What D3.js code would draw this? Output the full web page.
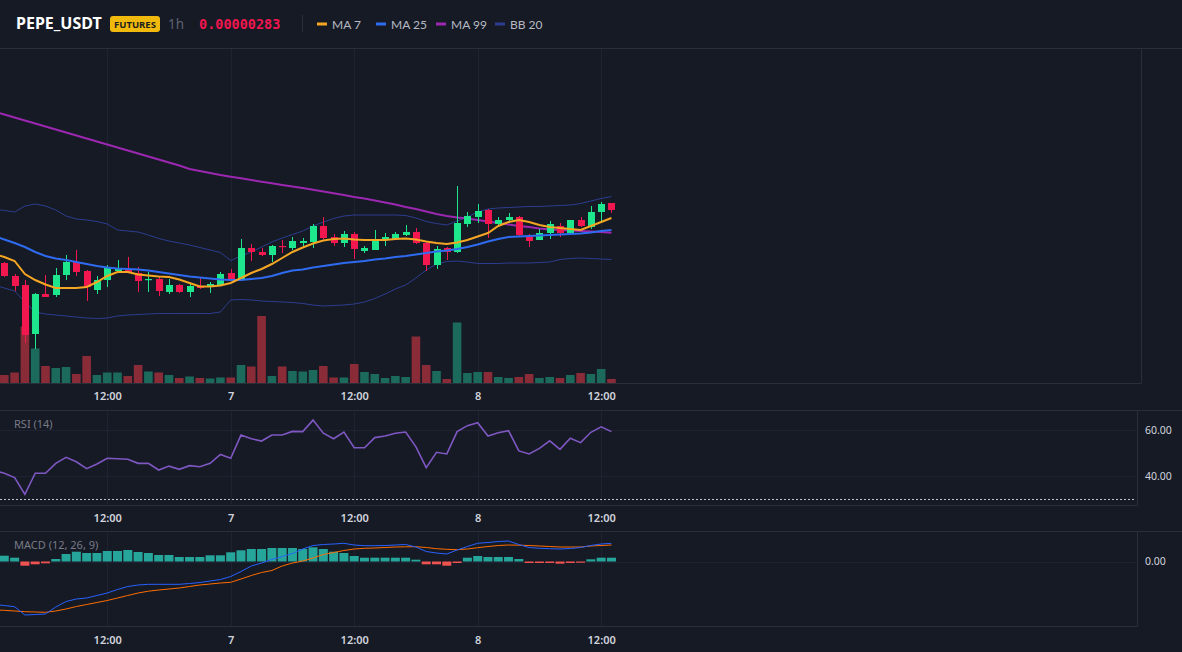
<!DOCTYPE html>
<html><head><meta charset="utf-8">
<script src="https://cdn.jsdelivr.net/npm/d3@7"></script>
<style>
html,body{margin:0;padding:0;background:#161a25;}
svg{display:block;}
</style></head><body>
<svg id="chart" width="1182" height="652"></svg>
<script>
// ---------- DATA (prices in units of 1e-8 USDT, volume in billions) ----------
const symbol = "PEPE_USDT";
const interval = "1h";
const lastPriceText = "0.00000283";
const firstCandleUTC = Date.UTC(2023, 9, 6, 2); // first visible hourly candle
const open = [277.7, 276.4, 275.5, 270.6, 274.6, 274.5, 276.5, 277.8, 276.9, 275.0,
  276.0, 276.9, 277.1, 276.7, 276.0, 276.1, 274.8, 275.5, 274.8, 275.4,
  275.3, 275.5, 276.7, 276.1, 279.2, 278.8, 278.5, 279.4, 279.2, 279.7,
  279.8, 281.4, 280.3, 279.7, 280.6, 278.9, 279.0, 280.0, 280.1, 280.5,
  280.8, 279.7, 277.5, 279.2, 278.8, 281.6, 282.3, 283.0, 281.6, 282.0,
  282.3, 280.3, 280.0, 280.7, 281.4, 280.7, 282.0, 281.3, 282.8, 283.7];
const high = [277.8, 276.6, 276.0, 274.7, 276.5, 277.2, 278.5, 279.0, 277.0, 276.4,
  277.5, 278.0, 278.3, 277.3, 276.8, 276.3, 276.1, 275.6, 275.6, 276.2,
  275.8, 276.8, 277.1, 280.1, 279.6, 279.2, 279.5, 280.0, 280.3, 280.2,
  281.6, 282.3, 280.6, 280.9, 280.8, 279.4, 281.0, 280.7, 280.8, 281.5,
  281.2, 279.9, 279.4, 279.3, 285.4, 282.8, 283.6, 283.1, 282.3, 282.7,
  282.4, 280.6, 281.1, 281.9, 281.7, 282.0, 282.3, 283.4, 283.8, 283.7];
const low = [276.3, 274.9, 269.7, 269.1, 274.3, 274.3, 276.0, 276.4, 273.9, 274.6,
  275.3, 276.8, 276.7, 274.8, 274.8, 274.4, 274.6, 274.7, 274.3, 275.1,
  274.7, 275.4, 276.0, 276.0, 277.9, 278.4, 277.8, 278.7, 279.0, 279.4,
  279.2, 280.1, 279.4, 279.3, 278.1, 278.7, 279.0, 279.4, 280.0, 280.4,
  279.6, 276.9, 277.1, 278.0, 278.7, 281.3, 281.7, 280.2, 281.4, 281.7,
  280.3, 279.3, 280.0, 280.1, 280.3, 280.5, 281.3, 281.1, 281.7, 282.7];
const close = [276.4, 275.4, 270.5, 274.6, 274.3, 276.5, 277.8, 276.8, 275.3, 276.0,
  277.2, 277.1, 276.8, 275.9, 276.1, 274.9, 275.5, 274.8, 275.4, 275.2,
  275.6, 276.6, 276.1, 279.2, 278.8, 278.5, 279.4, 279.3, 279.9, 279.9,
  281.4, 280.2, 279.7, 280.6, 279.1, 279.2, 280.1, 280.3, 280.6, 280.8,
  279.7, 277.5, 279.1, 278.8, 281.7, 282.4, 282.9, 281.6, 282.0, 282.3,
  280.5, 279.9, 280.7, 281.6, 280.7, 282.0, 281.4, 282.8, 283.6, 283.0];
const volume = [1.6, 2.1, 11.3, 6.9, 3.4, 3.0, 3.2, 1.8, 5.4, 1.6,
  2.1, 2.1, 1.4, 3.6, 2.3, 2.1, 1.6, 1.0, 1.3, 1.0,
  0.9, 1.1, 1.1, 3.6, 3.3, 13.4, 1.4, 3.3, 2.4, 2.3,
  2.6, 3.4, 1.1, 1.1, 3.8, 2.2, 1.8, 1.0, 1.4, 1.2,
  9.3, 3.6, 2.4, 0.8, 12.1, 2.0, 2.2, 2.2, 1.2, 1.0,
  1.2, 1.8, 1.0, 1.2, 1.0, 1.6, 2.0, 1.8, 2.8, 0.8];

// Indicator series start one hour before the first visible candle (61 values)
const ma7 = [278.6, 278.3, 277.9, 276.6, 276.0, 275.55, 275.2, 275.2, 275.2, 275.3, 275.8,
  276.4, 276.8, 276.8, 276.55, 276.45, 276.35, 276.3, 276.05, 275.7, 275.35,
  275.35, 275.45, 275.7, 276.2, 276.7, 277.1, 277.6, 278.2, 278.8, 279.25,
  279.65, 279.95, 280.1, 280.15, 280.05, 280.0, 280.0, 280.0, 280.1, 280.15,
  280.05, 279.85, 279.7, 279.6, 279.75, 280.0, 280.35, 280.7, 281.4, 281.8,
  282.0, 281.8, 281.5, 281.3, 281.2, 281.1, 281.0, 281.4, 281.8, 282.2];
const ma25 = [280.4, 280.05, 279.7, 279.3, 278.8, 278.4, 278.15, 278.0, 277.8, 277.6, 277.4,
  277.25, 277.15, 277.1, 277.05, 276.95, 276.8, 276.65, 276.5, 276.35, 276.25,
  276.15, 276.05, 276.0, 276.0, 276.1, 276.2, 276.4, 276.7, 276.95, 277.05,
  277.25, 277.4, 277.55, 277.7, 277.8, 277.9, 278.05, 278.15, 278.3, 278.4,
  278.55, 278.7, 278.85, 278.95, 279.1, 279.3, 279.55, 279.85, 280.1, 280.3,
  280.35, 280.4, 280.45, 280.5, 280.55, 280.6, 280.65, 280.75, 280.9, 281.0];
const ma99 = [292.85, 292.55, 292.25, 291.95, 291.65, 291.35, 291.05, 290.75, 290.45, 290.15, 289.85,
  289.55, 289.25, 288.95, 288.65, 288.35, 288.05, 287.75, 287.45, 287.1, 286.9,
  286.7, 286.5, 286.33, 286.17, 286.0, 285.83, 285.67, 285.5, 285.35, 285.2,
  285.03, 284.85, 284.67, 284.5, 284.3, 284.15, 283.95, 283.75, 283.55, 283.3,
  283.1, 282.85, 282.6, 282.4, 282.25, 282.15, 282.0, 281.85, 281.7, 281.55,
  281.4, 281.3, 281.15, 281.05, 281.0, 280.95, 280.9, 280.85, 280.8, 280.73];
const bbUpper = [283.1, 282.95, 282.8, 283.4, 283.6, 283.4, 283.0, 282.4, 282.1, 282.0, 281.85,
  281.6, 281.0, 280.9, 280.8, 280.5, 280.15, 279.9, 279.7, 279.5, 279.25,
  279.0, 278.75, 277.95, 278.4, 278.8, 279.3, 279.8, 280.2, 280.55, 280.9,
  281.4, 281.8, 282.15, 282.4, 282.5, 282.5, 282.5, 282.5, 282.5, 282.45,
  282.2, 281.85, 281.65, 281.5, 281.9, 282.3, 282.8, 283.1, 283.2, 283.25,
  283.3, 283.35, 283.35, 283.4, 283.45, 283.5, 283.65, 283.9, 284.15, 284.35];
const bbLower = [275.5, 275.2, 274.9, 273.8, 272.8, 272.6, 272.5, 272.4, 272.3, 272.2, 272.15,
  272.2, 272.4, 272.5, 272.55, 272.6, 272.65, 272.65, 272.65, 272.65, 272.65,
  272.65, 272.8, 274.0, 274.05, 274.0, 273.9, 273.85, 273.8, 273.75, 273.65,
  273.5, 273.4, 273.45, 273.5, 273.6, 273.8, 274.15, 274.6, 275.1, 275.5,
  276.2, 277.0, 277.6, 277.85, 277.9, 277.8, 277.65, 277.65, 277.65, 277.7,
  277.7, 277.7, 277.75, 277.8, 278.05, 278.15, 278.2, 278.15, 278.1, 278.05];
const rsi = [42.3, 41.2, 39.3, 32.0, 41.2, 41.2, 45.5, 48.1, 46.2, 43.2, 45.2,
  47.7, 47.5, 47.3, 45.5, 45.5, 42.6, 44.3, 42.9, 44.5, 44.0,
  45.5, 49.4, 47.7, 57.8, 56.2, 55.2, 57.8, 57.8, 59.4, 59.3,
  64.3, 58.6, 56.2, 59.1, 52.3, 52.3, 56.7, 57.4, 58.6, 59.1,
  52.7, 43.6, 50.3, 49.6, 59.3, 61.9, 63.2, 57.4, 58.8, 59.7,
  50.9, 49.6, 52.0, 55.3, 51.6, 56.4, 54.5, 59.0, 61.4, 59.3];
// MACD in units of 1e-9
const macd = [-8.6, -8.8, -9.04, -10.7, -10.6, -10.5, -9.1, -8.0, -7.5, -7.3, -6.8,
  -6.3, -5.6, -5.0, -4.7, -4.56, -4.56, -4.56, -4.56, -4.4, -4.2,
  -3.9, -3.6, -3.0, -2.0, -0.9, -0.3, 0.4, 1.0, 1.6, 2.5,
  3.2, 3.4, 3.5, 3.64, 3.3, 3.16, 3.16, 3.2, 3.3, 3.4,
  2.9, 2.0, 1.7, 1.5, 2.3, 3.0, 3.64, 3.8, 4.0, 4.1,
  3.4, 2.8, 2.64, 2.56, 2.5, 2.6, 2.8, 3.2, 3.5, 3.64];
const signal = [-9.7, -9.76, -9.9, -10.04, -10.1, -10.16, -9.9, -9.5, -9.0, -8.6, -8.2,
  -7.8, -7.3, -6.8, -6.3, -5.94, -5.7, -5.5, -5.3, -5.0, -4.7,
  -4.5, -4.3, -4.16, -3.5, -2.8, -2.2, -1.8, -0.9, -0.3, 0.1,
  0.7, 1.4, 1.8, 2.2, 2.5, 2.64, 2.7, 2.8, 2.9, 2.94,
  2.96, 2.8, 2.56, 2.44, 2.36, 2.5, 2.76, 3.0, 3.2, 3.3,
  3.26, 3.2, 3.1, 3.0, 2.9, 2.9, 2.9, 3.1, 3.2, 3.3];
const histogram = [1.16, 0.76, -0.84, -0.56, -0.36, 0.5, 1.5, 1.96, 1.7, 1.7,
  2.1, 2.1, 2.3, 1.9, 1.7, 1.3, 1.3, 0.9, 0.9, 0.9,
  1.24, 1.24, 1.84, 2.24, 2.5, 2.5, 2.7, 2.7, 2.7, 2.5,
  2.84, 2.5, 1.96, 1.7, 1.1, 0.76, 0.76, 0.76, 0.76, 0.76,
  0.36, -0.56, -0.56, -0.84, -0.3, 0.76, 1.1, 0.9, 0.9, 0.9,
  0.5, -0.3, -0.3, -0.3, -0.44, -0.3, -0.24, 0.44, 0.76, 0.76];
const legendLabels = ["MA 7", "MA 25", "MA 99", "BB 20"];
const legendColors = ["#f5a623", "#2f6bf0", "#9c27b0", "#2c3d8f"];
const rsiTicks = [40, 60];
const rsiOversold = 30;
const macdTicks = [0];

// ---------- LAYOUT ----------
const W = 1182, Hh = 652;
const HOUR = 3600e3;
const day7 = Date.UTC(2023, 9, 7);
const mainPane = {top: 48, bottom: 383, right: 1141};
const rsiPane = {top: 410, bottom: 505, right: 1137};
const macdPane = {top: 531, bottom: 626.7, right: 1137};
const BG = "#161a25", BORDER = "#2a2e39", GRID = "#1f2331";
const UP = "#1de68c", DOWN = "#f2184f";

const svg = d3.select("#chart");
svg.append("rect").attr("width", W).attr("height", Hh).attr("fill", BG);

const candleTimes = open.map((_, i) => new Date(firstCandleUTC + i * HOUR));
const indTimes = ma7.map((_, i) => new Date(firstCandleUTC + (i - 1) * HOUR));

const x = d3.scaleUtc()
  .domain([new Date(day7 - 22.42 * HOUR), new Date(day7 + 88.46 * HOUR)])
  .range([0, mainPane.right]);
const yPrice = d3.scaleLinear().domain([265.7, 299.2]).range([mainPane.bottom, mainPane.top]);
const yVol = d3.scaleLinear().domain([0, 67]).range([mainPane.bottom, mainPane.top]);
const yRsi = d3.scaleLinear().domain([27.39, 68.7]).range([rsiPane.bottom, rsiPane.top]);
const yMacd = d3.scaleLinear().domain([-13, 6.5]).range([626.5, 529]);

const tickValues = d3.utcHour.every(12).range(candleTimes[0], new Date(+candleTimes[candleTimes.length - 1] + 1));
const tickFmt = d => d.getUTCHours() === 0 ? d3.utcFormat("%-d")(d) : d3.utcFormat("%H:%M")(d);

const defs = svg.append("defs");
function clip(id, p) {
  defs.append("clipPath").attr("id", id).append("rect")
    .attr("x", 0).attr("y", p.top).attr("width", p.right).attr("height", p.bottom - p.top);
  return "url(#" + id + ")";
}
const clipMain = clip("cm", mainPane), clipRsi = clip("cr", rsiPane), clipMacd = clip("cmd", macdPane);

// ---------- grids & borders ----------
function vGrid(p) {
  svg.append("g").selectAll("line").data(tickValues).join("line")
    .attr("x1", d => Math.round(x(d)) + 0.5).attr("x2", d => Math.round(x(d)) + 0.5)
    .attr("y1", p.top).attr("y2", p.bottom).attr("stroke", GRID).attr("stroke-width", 1);
}
vGrid(mainPane); vGrid(rsiPane); vGrid(macdPane);

svg.append("g").selectAll("line").data(rsiTicks).join("line")
  .attr("x1", 0).attr("x2", rsiPane.right)
  .attr("y1", d => Math.round(yRsi(d)) + 0.5).attr("y2", d => Math.round(yRsi(d)) + 0.5)
  .attr("stroke", GRID);
svg.append("g").selectAll("line").data(macdTicks).join("line")
  .attr("x1", 0).attr("x2", macdPane.right)
  .attr("y1", d => Math.round(yMacd(d)) + 0.5).attr("y2", d => Math.round(yMacd(d)) + 0.5)
  .attr("stroke", GRID);

function hline(y, x1, x2) {
  svg.append("line").attr("x1", x1).attr("x2", x2).attr("y1", y).attr("y2", y)
    .attr("stroke", BORDER).attr("stroke-width", 1);
}
function vline(xx, y1, y2) {
  svg.append("line").attr("x1", xx).attr("x2", xx).attr("y1", y1).attr("y2", y2)
    .attr("stroke", BORDER).attr("stroke-width", 1);
}
hline(48.5, 0, W);
hline(383.5, 0, mainPane.right);
vline(mainPane.right + 0.5, 48, 383.5);
hline(410.5, 0, W);
hline(505.5, 0, rsiPane.right);
vline(rsiPane.right + 0.5, 410, 505.5);
hline(531.5, 0, W);
hline(626.5, 0, macdPane.right);
vline(macdPane.right + 0.5, 531, 626.5);

// ---------- main pane ----------
const gMain = svg.append("g").attr("clip-path", clipMain);
const idx = d3.range(open.length);
const isUp = i => close[i] >= open[i];

// volume
gMain.append("g").selectAll("rect").data(idx).join("rect")
  .attr("x", i => x(candleTimes[i]) - 4.3)
  .attr("width", 8.6)
  .attr("y", i => yVol(volume[i]))
  .attr("height", i => yVol(0) - yVol(volume[i]))
  .attr("fill", i => isUp(i) ? "#1b6a5b" : "#8a2b38");

// bollinger bands & long MA
const lineGen = (yS, arr) => d3.line().x((d, i) => x(indTimes[i])).y(d => yS(d)).curve(d3.curveLinear)(arr);
gMain.append("path").attr("d", lineGen(yPrice, bbUpper)).attr("fill", "none").attr("stroke", "#2c3d8f").attr("stroke-width", 1);
gMain.append("path").attr("d", lineGen(yPrice, bbLower)).attr("fill", "none").attr("stroke", "#2c3d8f").attr("stroke-width", 1);
gMain.append("path").attr("d", lineGen(yPrice, ma99)).attr("fill", "none").attr("stroke", "#9c27b0").attr("stroke-width", 2);

// candles
const gC = gMain.append("g");
gC.selectAll("line").data(idx).join("line")
  .attr("x1", i => Math.round(x(candleTimes[i])) + 0.5)
  .attr("x2", i => Math.round(x(candleTimes[i])) + 0.5)
  .attr("y1", i => yPrice(high[i])).attr("y2", i => yPrice(low[i]))
  .attr("stroke", i => isUp(i) ? UP : DOWN).attr("stroke-width", 1);
gC.selectAll("rect").data(idx).join("rect")
  .attr("x", i => Math.round(x(candleTimes[i])) - 3)
  .attr("width", 7)
  .attr("y", i => yPrice(Math.max(open[i], close[i])))
  .attr("height", i => Math.max(1.2, Math.abs(yPrice(open[i]) - yPrice(close[i]))))
  .attr("fill", i => isUp(i) ? UP : DOWN);

gMain.append("path").attr("d", lineGen(yPrice, ma25)).attr("fill", "none").attr("stroke", "#2f6bf0").attr("stroke-width", 2);
gMain.append("path").attr("d", lineGen(yPrice, ma7)).attr("fill", "none").attr("stroke", "#f5a623").attr("stroke-width", 2);

// ---------- RSI pane ----------
svg.append("line").attr("x1", 0).attr("x2", rsiPane.right - 3)
  .attr("y1", Math.round(yRsi(rsiOversold)) + 0.5).attr("y2", Math.round(yRsi(rsiOversold)) + 0.5)
  .attr("stroke", "#c3c6ce").attr("stroke-dasharray", "2,2").attr("stroke-width", 1);
svg.append("g").attr("clip-path", clipRsi).append("path")
  .attr("d", lineGen(yRsi, rsi)).attr("fill", "none").attr("stroke", "#7e57c2").attr("stroke-width", 1.6);

// ---------- MACD pane ----------
const gM = svg.append("g").attr("clip-path", clipMacd);
gM.append("g").selectAll("rect").data(idx).join("rect")
  .attr("x", i => x(candleTimes[i]) - 4.5)
  .attr("width", 9)
  .attr("y", i => yMacd(Math.max(0, histogram[i])))
  .attr("height", i => Math.abs(yMacd(histogram[i]) - yMacd(0)))
  .attr("fill", i => histogram[i] >= 0 ? "#26a69a" : "#ef5350");
gM.append("path").attr("d", lineGen(yMacd, signal)).attr("fill", "none").attr("stroke", "#ff6d00").attr("stroke-width", 1);
gM.append("path").attr("d", lineGen(yMacd, macd)).attr("fill", "none").attr("stroke", "#2962ff").attr("stroke-width", 1);

// ---------- axes ----------
function timeAxis(yPos) {
  const g = svg.append("g").attr("transform", `translate(0,${yPos})`)
    .call(d3.axisBottom(x).tickValues(tickValues).tickFormat(tickFmt).tickSize(0).tickPadding(9));
  g.select(".domain").remove();
  g.selectAll("text").attr("fill", "#d1d4dc").style("font-family", "'Noto Sans', sans-serif")
    .style("font-size", "11px").style("font-weight", "600");
}
timeAxis(383); timeAxis(505); timeAxis(627);

function valueAxis(yS, vals, xPos) {
  const g = svg.append("g").attr("transform", `translate(${xPos},0)`)
    .call(d3.axisRight(yS).tickValues(vals).tickFormat(d3.format(".2f")).tickSize(0).tickPadding(8));
  g.select(".domain").remove();
  g.selectAll("text").attr("fill", "#d1d4dc").style("font-family", "'Noto Sans', sans-serif")
    .style("font-size", "10.5px");
}
valueAxis(yRsi, rsiTicks, rsiPane.right);
valueAxis(yMacd, macdTicks, macdPane.right);

// pane labels
svg.append("text").attr("x", 14).attr("y", 428).text("RSI (14)")
  .attr("fill", "#787b86").style("font-family", "'Noto Sans', sans-serif").style("font-size", "11px");
svg.append("text").attr("x", 14).attr("y", 549).text("MACD (12, 26, 9)")
  .attr("fill", "#787b86").style("font-family", "'Noto Sans', sans-serif").style("font-size", "11px");

// ---------- header ----------
const hdr = svg.append("g");
hdr.append("text").attr("x", 16).attr("y", 29).text(symbol)
  .attr("fill", "#ffffff").style("font-family", "'Noto Sans', sans-serif").style("font-size", "16px").style("font-weight", "700");
hdr.append("rect").attr("x", 110).attr("y", 16).attr("width", 50).attr("height", 16).attr("rx", 3).attr("fill", "#f0b90b");
hdr.append("text").attr("x", 135).attr("y", 27.5).attr("text-anchor", "middle").text("FUTURES")
  .attr("fill", "#1e1e1e").style("font-family", "'Noto Sans', sans-serif").style("font-size", "9.5px").style("font-weight", "700");
hdr.append("text").attr("x", 168).attr("y", 29).text(interval)
  .attr("fill", "#5d6170").style("font-family", "'Noto Sans', sans-serif").style("font-size", "13.5px");
hdr.append("text").attr("x", 199).attr("y", 29).text(lastPriceText)
  .attr("fill", "#f0164f").style("font-family", "'DejaVu Sans Mono', monospace").style("font-size", "13.5px").style("font-weight", "700");
hdr.append("line").attr("x1", 302.5).attr("x2", 302.5).attr("y1", 15).attr("y2", 32).attr("stroke", BORDER);

// legend: fixed slots
const legendScale = d3.scalePoint().domain(legendLabels).range([317, 495]);
const lg = hdr.append("g").selectAll("g").data(legendLabels).join("g")
  .attr("transform", d => `translate(${Math.round(legendScale(d))},0)`);
lg.append("rect").attr("x", 0).attr("y", 22.5).attr("width", 10).attr("height", 3)
  .attr("fill", (d, i) => legendColors[i]);
lg.append("text").attr("x", 15).attr("y", 28.5).text(d => d)
  .attr("fill", "#b7bac3").style("font-family", "Lato, 'Noto Sans', sans-serif").style("font-size", "12px");
</script>
</body></html>
